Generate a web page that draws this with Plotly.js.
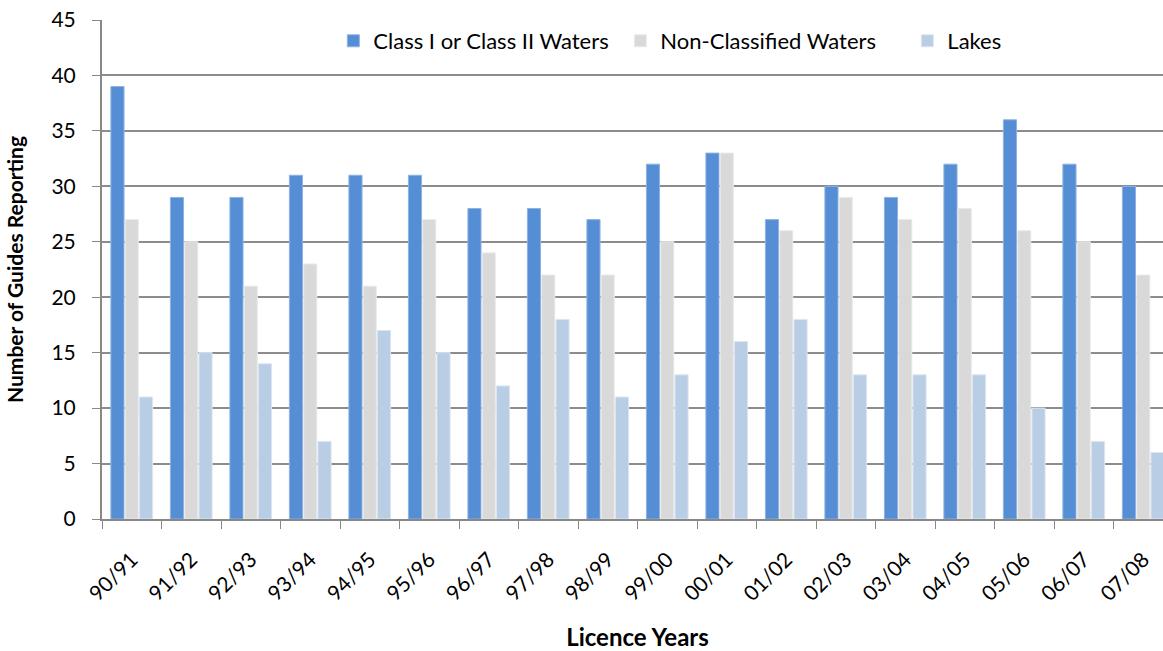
<!DOCTYPE html>
<html><head><meta charset="utf-8">
<script src="https://cdn.plot.ly/plotly-3.0.1.min.js"></script>
<style>html,body{margin:0;padding:0;overflow:hidden;background:#fff}</style>
</head><body>
<div id="chart"></div>
<script>
const years = ["90/91","91/92","92/93","93/94","94/95","95/96","96/97","97/98","98/99","99/00","00/01","01/02","02/03","03/04","04/05","05/06","06/07","07/08"];
const classWaters = [39,29,29,31,31,31,28,28,27,32,33,27,30,29,32,36,32,30];
const nonClassified = [27,25,21,23,21,27,24,22,22,25,33,26,29,27,28,26,25,22];
const lakes = [11,15,14,7,17,15,12,18,11,13,16,18,13,13,13,10,7,6];

const F = "Lato, 'Open Sans', sans-serif";
const traces = [
  {type:'bar', name:'Class I or Class II Waters', x:years, y:classWaters,
   marker:{color:'#558ED5', line:{color:'#8DB3E2', width:1}}},
  {type:'bar', name:'Non-Classified Waters', x:years, y:nonClassified,
   marker:{color:'#D9D9D9', line:{color:'#EAEAEA', width:1}}},
  {type:'bar', name:'Lakes', x:years, y:lakes,
   marker:{color:'#B9CDE5', line:{color:'#DCE6F2', width:1}}}
];
const layout = {
  width:1320, height:651,
  margin:{l:102, r:147, t:20, b:132},
  paper_bgcolor:'#fff', plot_bgcolor:'#fff',
  barmode:'group', bargap:0.28, bargroupgap:0.08,
  font:{family:F, size:21, color:'#000'},
  showlegend:true,
  legend:{orientation:'h', x:0.216, xanchor:'left', y:1.0, yanchor:'top',
          font:{family:F, size:22}, bgcolor:'rgba(0,0,0,0)', traceorder:'normal',
          entrywidth:242, entrywidthmode:'pixels'},
  xaxis:{title:{text:'<b>Licence Years</b>', font:{family:F, size:24}, standoff:32},
         tickangle:-45, tickson:'boundaries', ticks:'outside', ticklen:8, tickcolor:'#888',
         ticklabelstandoff:18,
         showline:true, linecolor:'#888', linewidth:2, showgrid:false,
         tickfont:{family:F, size:21}, automargin:false},
  yaxis:{title:{text:'<b>Number of Guides Reporting</b>', font:{family:F, size:21}, standoff:22},
         range:[0,45], dtick:5, ticks:'outside', ticklen:8, tickcolor:'#888',
         ticklabelstandoff:12,
         showline:true, linecolor:'#888', linewidth:2,
         showgrid:true, gridcolor:'#8C8C8C', gridwidth:2, zeroline:false,
         tickfont:{family:F, size:21}, automargin:false}
};
Plotly.newPlot('chart', traces, layout, {displayModeBar:false, staticPlot:true});
</script>
</body></html>
